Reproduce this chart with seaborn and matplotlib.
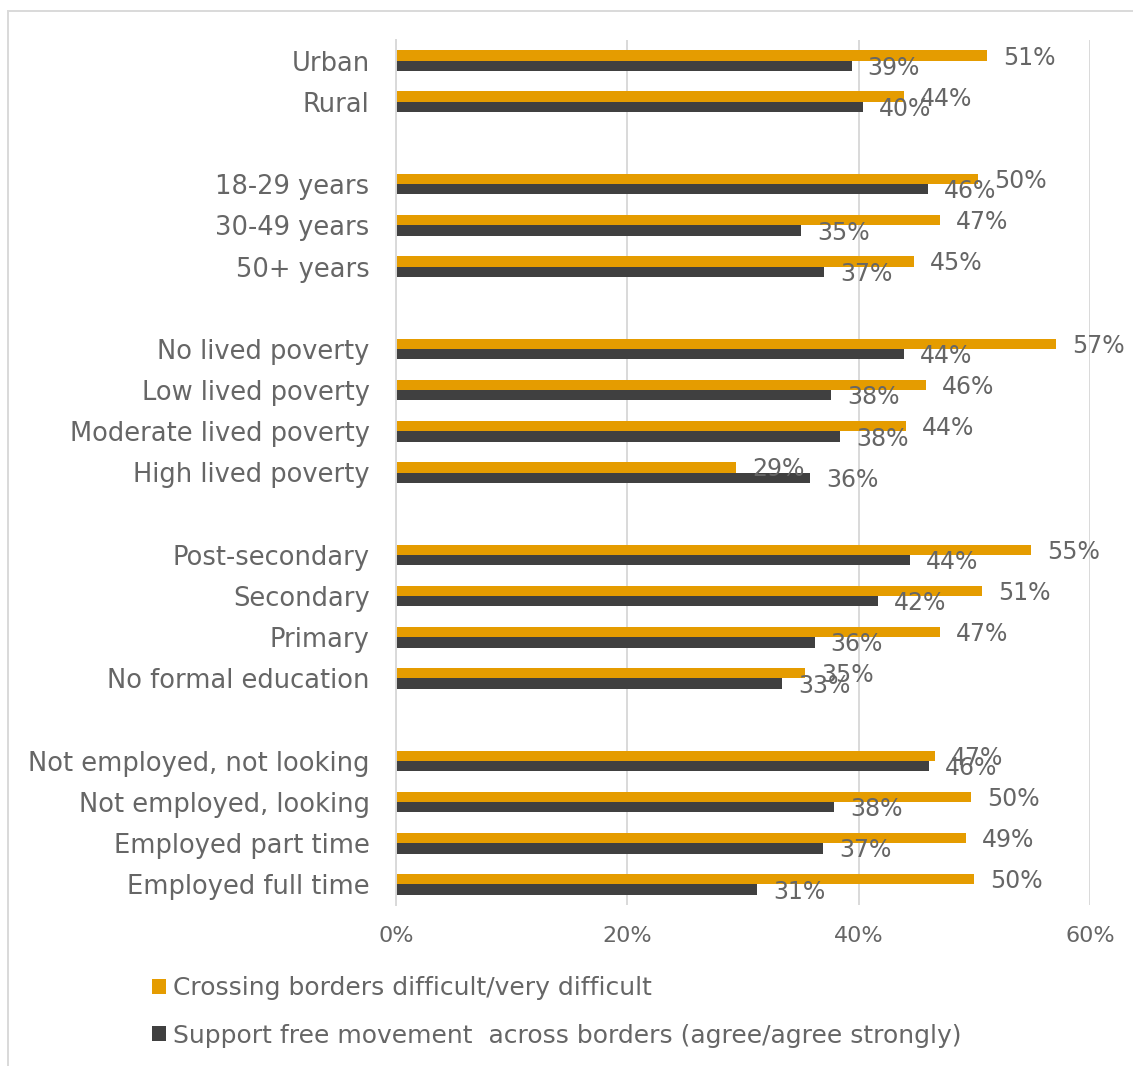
import matplotlib
matplotlib.use("Agg")
import matplotlib.pyplot as plt
import numpy as np
import pandas as pd
import seaborn as sns
from matplotlib.patches import Patch, Rectangle

# Demographic groups, top to bottom
location = ["Urban", "Rural"]
age = ["18-29 years", "30-49 years", "50+ years"]
poverty = ["No lived poverty", "Low lived poverty", "Moderate lived poverty", "High lived poverty"]
education = ["Post-secondary", "Secondary", "Primary", "No formal education"]
employment = ["Not employed, not looking", "Not employed, looking",
              "Employed part time", "Employed full time"]

series_names = ["Crossing borders difficult/very difficult",
                "Support free movement  across borders (agree/agree strongly)"]

# Percent of respondents, same row order as the groups above
crossing_difficult = [51.1, 43.9,
                      50.3, 47.0, 44.8,
                      57.1, 45.8, 44.1, 29.4,
                      54.9, 50.7, 47.0, 35.4,
                      46.6, 49.7, 49.3, 50.0]
support_free_movement = [39.4, 40.4,
                         46.0, 35.0, 37.0,
                         43.9, 37.6, 38.4, 35.8,
                         44.4, 41.7, 36.2, 33.4,
                         46.1, 37.9, 36.9, 31.2]

x_ticks = [0, 20, 40, 60]

ORANGE = "#E59C00"
DARK = "#404040"
TEXT = "#666666"
GRID = "#D9D9D9"

groups = [location, age, poverty, education, employment]
categories = [c for g in groups for c in g]

# Category order with blank spacer rows between groups
order = []
for i, g in enumerate(groups):
    if i > 0:
        order.append(" " * i)
    order.extend(g)

df = pd.DataFrame({
    "category": categories * 2,
    "series": [series_names[0]] * len(categories) + [series_names[1]] * len(categories),
    "value": crossing_difficult + support_free_movement,
})

sns.set_style("white")
plt.rcParams["font.family"] = ["DejaVu Sans"]

fig = plt.figure(figsize=(11.33, 10.66), dpi=100)
ax = fig.add_axes([396 / 1133, 1 - 905 / 1066, (1090 - 396) / 1133, (905 - 40) / 1066])

sns.barplot(data=df, x="value", y="category", hue="series", order=order,
            hue_order=series_names, palette=[ORANGE, DARK], saturation=1,
            width=0.5, orient="h", errorbar=None, legend=False, linewidth=0, ax=ax)

# Value labels just past the end of each bar
for container in ax.containers:
    for bar in container:
        w = bar.get_width()
        if not np.isfinite(w) or w == 0:
            continue
        y = bar.get_y() + bar.get_height() / 2
        ax.annotate(f"{w:.0f}%", xy=(w, y), xytext=(11.5, -1.5),
                    textcoords="offset points", ha="left", va="center",
                    fontsize=17, color=TEXT)

ax.set_xlim(0, 60)
ax.set_ylim(len(order) - 0.5, -0.5)
ax.set_xticks(x_ticks)
ax.set_xticklabels([f"{t}%" for t in x_ticks])
ax.set_xlabel("")
ax.set_ylabel("")

ax.xaxis.grid(True, color=GRID, linewidth=1.4)
ax.yaxis.grid(False)
ax.set_axisbelow(True)
for side in ["top", "right", "bottom"]:
    ax.spines[side].set_visible(False)
ax.spines["left"].set_color(GRID)
ax.spines["left"].set_linewidth(1.4)

ax.tick_params(axis="y", length=0, pad=19, labelsize=18.5, labelcolor=TEXT)
ax.tick_params(axis="x", length=0, pad=15, labelsize=16, labelcolor=TEXT)

handles = [Patch(facecolor=ORANGE, edgecolor="none"), Patch(facecolor=DARK, edgecolor="none")]
fig.legend(handles, series_names, loc="upper left",
           bbox_to_anchor=(152 / 1133, 1 - 976 / 1066), frameon=False,
           fontsize=18, labelcolor=TEXT, handlelength=0.55, handleheight=0.55,
           handletextpad=0.3, labelspacing=0.95, borderaxespad=0, borderpad=0)

# Light chart-area frame
fig.add_artist(Rectangle((8 / 1133, -0.1), 1.2, 1 - 11 / 1066 + 0.1,
                         transform=fig.transFigure, fill=False,
                         edgecolor=GRID, linewidth=1.4))

fig.savefig("out.png", dpi=100)
